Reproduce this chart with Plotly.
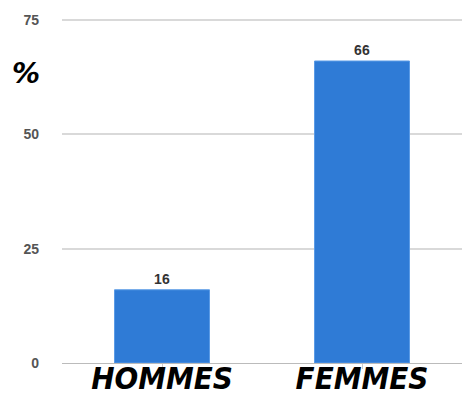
import plotly.graph_objects as go

categories = ["HOMMES", "FEMMES"]
values = [16, 66]
y_ticks = [0, 25, 50, 75]

fig = go.Figure()
fig.add_trace(go.Bar(
    x=categories, y=values, width=0.475,
    marker=dict(color="#2f7bd6", line=dict(color="#5b9be6", width=1)),
    text=[str(v) for v in values], textposition="outside",
    textfont=dict(family="Arial, Liberation Sans", size=14, color="#333333", weight="bold"),
    cliponaxis=False,
))

fig.update_layout(
    width=464, height=400,
    margin=dict(l=62, r=2, t=18, b=37),
    paper_bgcolor="white", plot_bgcolor="white",
    showlegend=False,
    xaxis=dict(
        showgrid=False, showline=True, linecolor="#bbbbbb", linewidth=1,
        ticks="outside", ticklen=5, tickcolor="#cccccc",
        tickfont=dict(family="DejaVu Sans Condensed, DejaVu Sans", size=31, color="black", weight="bold", style="italic"),
        ticklabelstandoff=-17, automargin=False,
    ),
    yaxis=dict(
        range=[0, 75.4], tickvals=y_ticks, showgrid=True, gridcolor="#d9d9d9", gridwidth=1.5,
        zeroline=False, showline=False,
        tickfont=dict(family="Arial, Liberation Sans", size=14, color="#555555", weight="bold"),
        ticklabelstandoff=22, automargin=False,
    ),
    bargap=0.525,
)

fig.add_annotation(
    text="%", xref="paper", yref="paper", x=-0.09, y=(400 - 37 - 73) / 345,
    xanchor="center", yanchor="middle", showarrow=False,
    font=dict(family="DejaVu Sans", size=28, color="black", weight="bold", style="italic"),
)

fig.write_html("out.html")
